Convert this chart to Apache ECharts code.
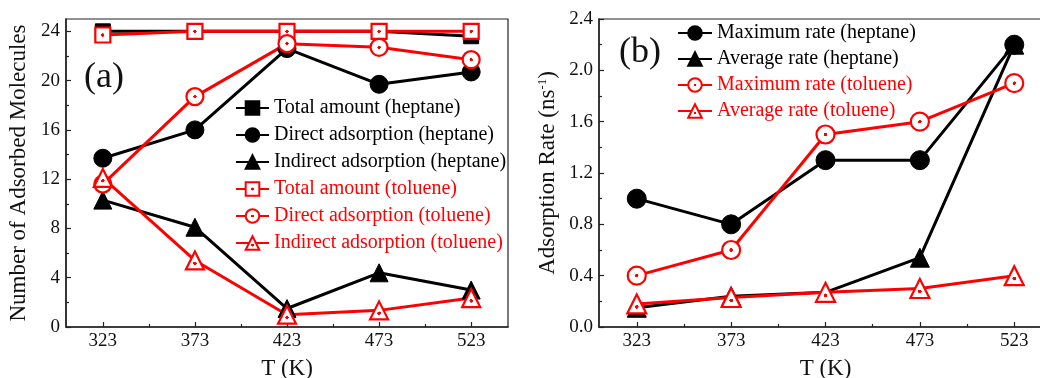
<!DOCTYPE html>
<html>
<head>
<meta charset="utf-8">
<script src="https://cdn.jsdelivr.net/npm/echarts@6/dist/echarts.min.js"></script>
<style>
  html, body { margin: 0; padding: 0; background: #fff; }
  #chart { width: 1040px; height: 378px; }
</style>
</head>
<body>
<div id="chart"></div>
<script>
// Temperatures (K)
const temps = [323, 373, 423, 473, 523];

// (a) Number of adsorbed molecules
const totalHeptane    = [24.0, 24.0, 24.0, 24.0, 23.6];
const directHeptane   = [13.7, 16.0, 22.6, 19.7, 20.7];
const indirectHeptane = [10.3, 8.1, 1.5, 4.4, 3.0];
const totalToluene    = [23.7, 24.0, 24.0, 24.0, 24.0];
const directToluene   = [11.6, 18.7, 23.0, 22.7, 21.7];
const indirectToluene = [12.1, 5.4, 1.0, 1.35, 2.35];

// (b) Adsorption rate (ns^-1)
const maxRateHeptane = [1.0, 0.8, 1.3, 1.3, 2.2];
const avgRateHeptane = [0.15, 0.24, 0.27, 0.54, 2.2];
const maxRateToluene = [0.4, 0.6, 1.5, 1.6, 1.9];
const avgRateToluene = [0.18, 0.23, 0.27, 0.30, 0.40];

// Axis ticks
const tempTicks = [323, 373, 423, 473, 523];
const tempMinorTicks = [348, 398, 448, 498];
const countTicks = [0, 4, 8, 12, 16, 20, 24];
const countMinorTicks = [2, 6, 10, 14, 18, 22];

const FONT = 'Liberation Serif';
const BLACK = '#000000';
const RED = '#ff0000';

function pairs(ys) { return temps.map((t, i) => [t, ys[i]]); }

// white interior with a small centre dot, like an open marker
function openFill(cy, dot) {
  return {
    type: 'radial', x: 0.5, y: cy, r: 0.5,
    colorStops: [
      { offset: 0, color: RED },
      { offset: dot, color: RED },
      { offset: dot + 0.02, color: '#ffffff' },
      { offset: 1, color: '#ffffff' }
    ]
  };
}

function filledSeries(name, ys, symbol, size, xi, yi) {
  return {
    name, type: 'line', data: pairs(ys), xAxisIndex: xi, yAxisIndex: yi,
    symbol, symbolSize: size, showAllSymbol: true,
    lineStyle: { color: BLACK, width: 3 },
    itemStyle: { color: BLACK, borderColor: BLACK, borderWidth: 1 },
    emphasis: { disabled: true }, animation: false
  };
}

function openSeries(name, ys, symbol, size, cy, dot, xi, yi) {
  return {
    name, type: 'line', data: pairs(ys), xAxisIndex: xi, yAxisIndex: yi,
    symbol, symbolSize: size, showAllSymbol: true,
    lineStyle: { color: RED, width: 3 },
    itemStyle: { color: openFill(cy, dot), borderColor: RED, borderWidth: 2.2 },
    emphasis: { disabled: true }, animation: false
  };
}

const labelStyle = { fontFamily: FONT, fontSize: 19, color: '#111' };
const axisLineStyle = { lineStyle: { color: '#222', width: 1.5 } };

function mainX(gridIndex) {
  return {
    type: 'value', gridIndex, min: 303, max: 543, position: 'bottom',
    name: 'T (K)', nameLocation: 'middle', nameGap: 30,
    nameTextStyle: { fontFamily: FONT, fontSize: 23, color: '#111' },
    axisLine: axisLineStyle,
    axisTick: { show: true, inside: true, length: 5, customValues: tempTicks, lineStyle: { color: '#222', width: 1.2 } },
    axisLabel: { ...labelStyle, margin: 5, customValues: tempTicks },
    splitLine: { show: false }
  };
}
function minorX(gridIndex) {
  return {
    type: 'value', gridIndex, min: 303, max: 543, position: 'bottom',
    axisLine: { show: false },
    axisTick: { show: true, inside: true, length: 3, customValues: tempMinorTicks, lineStyle: { color: '#222', width: 1.2 } },
    axisLabel: { show: false },
    splitLine: { show: false }
  };
}

const option = {
  backgroundColor: '#ffffff',
  animation: false,
  grid: [
    { left: 66, top: 19, width: 442, height: 308, outerBoundsMode: 'none', containLabel: false, show: true, borderColor: '#222', borderWidth: 1.2, backgroundColor: 'transparent' },
    { left: 599, top: 19, width: 453, height: 308, outerBoundsMode: 'none', containLabel: false, show: true, borderColor: '#222', borderWidth: 1.2, backgroundColor: 'transparent' }
  ],
  xAxis: [mainX(0), minorX(0), mainX(1), minorX(1)],
  yAxis: [
    {
      type: 'value', gridIndex: 0, min: 0, max: 25, position: 'left',
      name: 'Number of Adsorbed Molecules', nameLocation: 'middle', nameGap: 36,
      nameTextStyle: { fontFamily: FONT, fontSize: 23, color: '#111' },
      axisLine: axisLineStyle,
      axisTick: { show: true, inside: true, length: 5, customValues: countTicks, lineStyle: { color: '#222', width: 1.2 } },
      axisLabel: { ...labelStyle, margin: 6, customValues: countTicks },
      splitLine: { show: false }
    },
    {
      type: 'value', gridIndex: 0, min: 0, max: 25, position: 'left',
      axisLine: { show: false },
      axisTick: { show: true, inside: true, length: 3, customValues: countMinorTicks, lineStyle: { color: '#222', width: 1.2 } },
      axisLabel: { show: false },
      splitLine: { show: false }
    },
    {
      type: 'value', gridIndex: 1, min: 0, max: 2.4, interval: 0.4, position: 'left',
      name: 'Adsorption Rate (ns{sup|-1})', nameLocation: 'middle', nameGap: 40,
      nameTextStyle: {
        fontFamily: FONT, fontSize: 23, color: '#111',
        rich: { sup: { fontFamily: FONT, fontSize: 13, color: '#111', verticalAlign: 'top', padding: [0, 0, 10, 0] } }
      },
      axisLine: axisLineStyle,
      axisTick: { show: true, inside: true, length: 5, lineStyle: { color: '#222', width: 1.2 } },
      minorTick: { show: true, splitNumber: 2, length: 3, lineStyle: { color: '#222', width: 1.2 } },
      axisLabel: { ...labelStyle, margin: 6, formatter: v => v.toFixed(1) },
      splitLine: { show: false },
      minorSplitLine: { show: false }
    },
    {
      type: 'value', gridIndex: 1, min: 0, max: 2.4, position: 'left',
      axisLine: { show: false }, axisTick: { show: false }, axisLabel: { show: false }, splitLine: { show: false }
    }
  ],
  legend: [
    {
      orient: 'vertical', left: 230, top: 93, itemWidth: 33, itemHeight: 17, itemGap: 7,
      textStyle: { fontFamily: FONT, fontSize: 20, color: BLACK },
      data: [
        { name: 'Total amount (heptane)', textStyle: { color: BLACK } },
        { name: 'Direct adsorption (heptane)', textStyle: { color: BLACK } },
        { name: 'Indirect adsorption (heptane)', textStyle: { color: BLACK } },
        { name: 'Total amount (toluene)', textStyle: { color: RED } },
        { name: 'Direct adsorption (toluene)', textStyle: { color: RED } },
        { name: 'Indirect adsorption (toluene)', textStyle: { color: RED } }
      ],
      selectedMode: false
    },
    {
      orient: 'vertical', left: 672, top: 18, itemWidth: 34, itemHeight: 17, itemGap: 6,
      textStyle: { fontFamily: FONT, fontSize: 20, color: BLACK },
      data: [
        { name: 'Maximum rate (heptane)', textStyle: { color: BLACK } },
        { name: 'Average rate (heptane)', textStyle: { color: BLACK } },
        { name: 'Maximum rate (toluene)', textStyle: { color: RED } },
        { name: 'Average rate (toluene)', textStyle: { color: RED } }
      ],
      selectedMode: false
    }
  ],
  graphic: [
    { type: 'text', left: 84, top: 60, style: { text: '(a)', font: '36px "Liberation Serif"', fill: '#111' } },
    { type: 'text', left: 619, top: 35, style: { text: '(b)', font: '36px "Liberation Serif"', fill: '#111' } }
  ],
  series: [
    filledSeries('Total amount (heptane)', totalHeptane, 'rect', 15, 0, 0),
    filledSeries('Direct adsorption (heptane)', directHeptane, 'circle', 18, 0, 0),
    filledSeries('Indirect adsorption (heptane)', indirectHeptane, 'triangle', 18, 0, 0),
    openSeries('Total amount (toluene)', totalToluene, 'rect', 15, 0.5, 0.18, 0, 0),
    openSeries('Direct adsorption (toluene)', directToluene, 'circle', 17, 0.5, 0.16, 0, 0),
    openSeries('Indirect adsorption (toluene)', indirectToluene, 'triangle', 18, 0.64, 0.16, 0, 0),

    filledSeries('Maximum rate (heptane)', maxRateHeptane, 'circle', 19, 2, 2),
    filledSeries('Average rate (heptane)', avgRateHeptane, 'triangle', 19, 2, 2),
    openSeries('Maximum rate (toluene)', maxRateToluene, 'circle', 18, 0.5, 0.16, 2, 2),
    openSeries('Average rate (toluene)', avgRateToluene, 'triangle', 19, 0.64, 0.16, 2, 2)
  ]
};

const chart = echarts.init(document.getElementById('chart'), null, { renderer: 'canvas' });
chart.setOption(option);
</script>
</body>
</html>
